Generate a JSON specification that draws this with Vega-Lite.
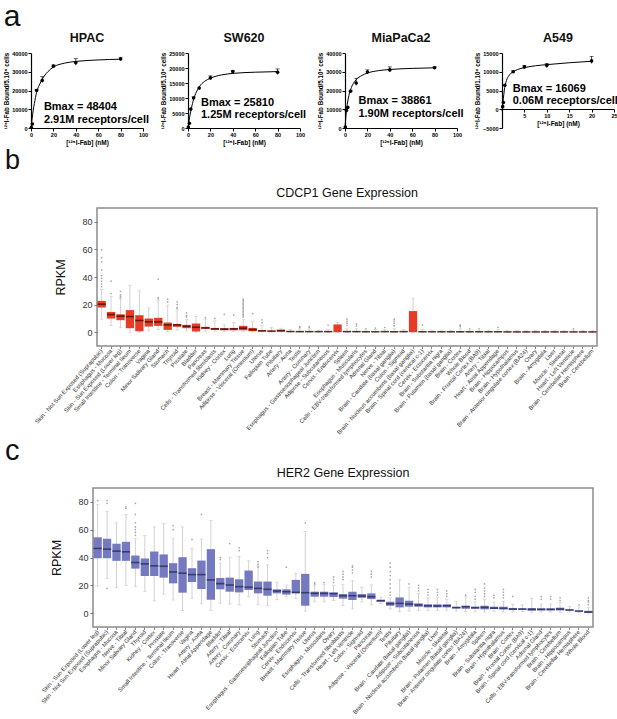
{
"$schema": "https://vega.github.io/schema/vega-lite/v6.json",
"background": "white",
"padding": {"left": 3, "top": 1, "right": 1, "bottom": 0},
"config": {"font": "Liberation Sans", "view": {"stroke": null}, "title": {"font": "Liberation Sans", "color": "#111"}, "axis": {"labelOverlap": false}},
"datasets": {
"pts": [
{"cell":"HPAC","x":0.3,"y":300},{"cell":"HPAC","x":1.25,"y":2100},{"cell":"HPAC","x":5,"y":20000,"lo":19400,"hi":20600},{"cell":"HPAC","x":10,"y":25300,"lo":24300,"hi":27400},{"cell":"HPAC","x":20,"y":33000,"lo":32400,"hi":33600},{"cell":"HPAC","x":40,"y":34800,"lo":33600,"hi":37000},{"cell":"HPAC","x":80,"y":36800,"lo":36000,"hi":37700},
{"cell":"SW620","x":0.3,"y":300},{"cell":"SW620","x":1.25,"y":1600},{"cell":"SW620","x":2.5,"y":6300},{"cell":"SW620","x":5,"y":10000,"lo":9600,"hi":10400},{"cell":"SW620","x":10,"y":13300},{"cell":"SW620","x":20,"y":16700,"lo":16100,"hi":17400},{"cell":"SW620","x":40,"y":18800,"lo":18400,"hi":19100},{"cell":"SW620","x":80,"y":18600,"lo":17800,"hi":19700},
{"cell":"MiaPaCa2","x":0.3,"y":500},{"cell":"MiaPaCa2","x":1.25,"y":9400},{"cell":"MiaPaCa2","x":2.5,"y":11000},{"cell":"MiaPaCa2","x":5,"y":19600,"lo":19000,"hi":20200},{"cell":"MiaPaCa2","x":10,"y":24000,"lo":22700,"hi":26500},{"cell":"MiaPaCa2","x":20,"y":29900,"lo":28800,"hi":31000},{"cell":"MiaPaCa2","x":40,"y":31000,"lo":30000,"hi":32600},{"cell":"MiaPaCa2","x":80,"y":32100,"lo":31600,"hi":32700},
{"cell":"A549","x":0.156,"y":700},{"cell":"A549","x":0.3125,"y":1800},{"cell":"A549","x":0.625,"y":6400},{"cell":"A549","x":2.5,"y":10000,"lo":9700,"hi":10300},{"cell":"A549","x":5,"y":11300,"lo":10900,"hi":11700},{"cell":"A549","x":10,"y":11700,"lo":11100,"hi":12200},{"cell":"A549","x":20,"y":12900,"lo":12200,"hi":14100}
],
"fit": [
{"cell":"HPAC","x":0,"y":0},{"cell":"HPAC","x":1,"y":5000},{"cell":"HPAC","x":2,"y":9500},{"cell":"HPAC","x":3,"y":13000},{"cell":"HPAC","x":5,"y":19000},{"cell":"HPAC","x":7.5,"y":23000},{"cell":"HPAC","x":10,"y":26000},{"cell":"HPAC","x":15,"y":30000},{"cell":"HPAC","x":20,"y":32500},{"cell":"HPAC","x":30,"y":34600},{"cell":"HPAC","x":40,"y":35500},{"cell":"HPAC","x":60,"y":36300},{"cell":"HPAC","x":80,"y":36700},
{"cell":"SW620","x":0,"y":0},{"cell":"SW620","x":0.5,"y":1300},{"cell":"SW620","x":1,"y":2500},{"cell":"SW620","x":2,"y":4700},{"cell":"SW620","x":3,"y":6500},{"cell":"SW620","x":5,"y":9600},{"cell":"SW620","x":7.5,"y":12000},{"cell":"SW620","x":10,"y":13700},{"cell":"SW620","x":15,"y":15600},{"cell":"SW620","x":20,"y":16600},{"cell":"SW620","x":30,"y":17700},{"cell":"SW620","x":40,"y":18200},{"cell":"SW620","x":60,"y":18600},{"cell":"SW620","x":80,"y":18800},
{"cell":"MiaPaCa2","x":0,"y":0},{"cell":"MiaPaCa2","x":0.5,"y":4000},{"cell":"MiaPaCa2","x":1,"y":7500},{"cell":"MiaPaCa2","x":2,"y":12500},{"cell":"MiaPaCa2","x":3,"y":16000},{"cell":"MiaPaCa2","x":5,"y":20500},{"cell":"MiaPaCa2","x":7.5,"y":23800},{"cell":"MiaPaCa2","x":10,"y":25800},{"cell":"MiaPaCa2","x":15,"y":28000},{"cell":"MiaPaCa2","x":20,"y":29300},{"cell":"MiaPaCa2","x":30,"y":30600},{"cell":"MiaPaCa2","x":40,"y":31200},{"cell":"MiaPaCa2","x":60,"y":31800},{"cell":"MiaPaCa2","x":80,"y":32100},
{"cell":"A549","x":0,"y":-500},{"cell":"A549","x":0.15,"y":1000},{"cell":"A549","x":0.3,"y":2800},{"cell":"A549","x":0.5,"y":4900},{"cell":"A549","x":0.75,"y":6600},{"cell":"A549","x":1,"y":7700},{"cell":"A549","x":1.5,"y":8900},{"cell":"A549","x":2,"y":9600},{"cell":"A549","x":2.5,"y":10000},{"cell":"A549","x":3.5,"y":10600},{"cell":"A549","x":5,"y":11100},{"cell":"A549","x":7.5,"y":11600},{"cell":"A549","x":10,"y":11900},{"cell":"A549","x":15,"y":12400},{"cell":"A549","x":20,"y":12800}
],
"cdcp1": [
{"t":"Skin - Not Sun Exposed (Suprapubic)","lo":9.4,"q1":17.9,"m":20.3,"q3":22.7,"hi":31,"o":[59.7,54,51,45,41,39,37,35,33]},
{"t":"Esophagus - Mucosa","lo":5,"q1":9.9,"m":12.8,"q3":14.7,"hi":26,"o":[37,28]},
{"t":"Skin - Sun Exposed (Lower leg)","lo":3.5,"q1":8.7,"m":11.6,"q3":13,"hi":24,"o":[29.5,27,26,25]},
{"t":"Small Intestine - Terminal Ileum","lo":0,"q1":2.9,"m":11.3,"q3":16,"hi":34,"o":[]},
{"t":"Colon - Transverse","lo":0,"q1":0.7,"m":8.5,"q3":12.3,"hi":30,"o":[]},
{"t":"Vagina","lo":1,"q1":4.1,"m":7.5,"q3":9.9,"hi":17.6,"o":[]},
{"t":"Minor Salivary Gland","lo":2,"q1":4.6,"m":7.5,"q3":10.4,"hi":22.7,"o":[38.5,25,24]},
{"t":"Stomach","lo":0.5,"q1":1.7,"m":5.3,"q3":7,"hi":19.6,"o":[24,22]},
{"t":"Thyroid","lo":1.5,"q1":3.9,"m":5.3,"q3":6,"hi":15.5,"o":[22,20,18,17]},
{"t":"Prostate","lo":1,"q1":2.9,"m":4.3,"q3":5.3,"hi":9.4,"o":[14,12,11]},
{"t":"Bladder","lo":0,"q1":0.5,"m":3.6,"q3":6.3,"hi":11.4,"o":[]},
{"t":"Pancreas","lo":0.8,"q1":2.4,"m":3.1,"q3":3.9,"hi":9.4,"o":[10.5]},
{"t":"Cells - Transformed fibroblasts","lo":0.8,"q1":1.7,"m":2.4,"q3":3.1,"hi":8.2,"o":[10]},
{"t":"Kidney - Cortex","lo":0.5,"q1":1.4,"m":2.2,"q3":2.9,"hi":5.3,"o":[13]},
{"t":"Lung","lo":0.5,"q1":1.4,"m":2.4,"q3":3.1,"hi":7,"o":[12.5]},
{"t":"Breast - Mammary Tissue","lo":0.3,"q1":1.4,"m":2.9,"q3":4.6,"hi":9.4,"o":[24,23,22,21,20,19,18,17,16,15,14,13,12,11]},
{"t":"Adipose - Visceral (Omentum)","lo":0.2,"q1":0.7,"m":1.9,"q3":3.1,"hi":8,"o":[13.5]},
{"t":"Uterus","lo":0.2,"q1":0.5,"m":1,"q3":1.4,"hi":4.6,"o":[9,7]},
{"t":"Fallopian Tube","lo":0.2,"q1":0.5,"m":0.7,"q3":1.2,"hi":3.4,"o":[]},
{"t":"Pituitary","lo":0.2,"q1":0.5,"m":1,"q3":1.9,"hi":2.9,"o":[]},
{"t":"Artery - Aorta","lo":0,"q1":0.3,"m":0.5,"q3":0.8,"hi":2,"o":[]},
{"t":"Testis","lo":0,"q1":0.2,"m":0.4,"q3":0.7,"hi":2.5,"o":[4,3.5]},
{"t":"Artery - Coronary","lo":0,"q1":0.2,"m":0.4,"q3":0.7,"hi":2.5,"o":[4,3.5]},
{"t":"Esophagus - Gastroesophageal Junction","lo":0,"q1":0.2,"m":0.4,"q3":0.6,"hi":1.5,"o":[]},
{"t":"Adipose - Subcutaneous","lo":0,"q1":0.2,"m":0.4,"q3":0.7,"hi":2,"o":[5]},
{"t":"Cervix - Endocervix","lo":0,"q1":0,"m":null,"q3":5.6,"hi":7,"o":[]},
{"t":"Spleen","lo":0,"q1":0.2,"m":0.4,"q3":0.8,"hi":2.5,"o":[9.4,8,6.5,5]},
{"t":"Esophagus - Muscularis","lo":0,"q1":0.2,"m":0.4,"q3":0.7,"hi":2.5,"o":[6,4.5]},
{"t":"Cells - EBV-transformed lymphocytes","lo":0,"q1":0.2,"m":0.3,"q3":0.6,"hi":1.5,"o":[2.5]},
{"t":"Adrenal Gland","lo":0,"q1":0.2,"m":0.3,"q3":0.6,"hi":2,"o":[3]},
{"t":"Nerve - Tibial","lo":0,"q1":0.2,"m":0.4,"q3":0.7,"hi":2,"o":[3.4]},
{"t":"Brain - Caudate (basal ganglia)","lo":0,"q1":0.1,"m":0.3,"q3":0.6,"hi":2.5,"o":[9.4,8,6.5,5,4.5]},
{"t":"Colon - Sigmoid","lo":0,"q1":0.2,"m":0.4,"q3":0.7,"hi":1.8,"o":[]},
{"t":"Brain - Nucleus accumbens (basal ganglia)","lo":0,"q1":0,"m":null,"q3":15.3,"hi":24.6,"o":[]},
{"t":"Brain - Spinal cord (cervical c-1)","lo":0,"q1":0.2,"m":0.3,"q3":0.6,"hi":2,"o":[5.3]},
{"t":"Cervix - Ectocervix","lo":0,"q1":0.2,"m":0.3,"q3":0.5,"hi":1.5,"o":[]},
{"t":"Brain - Substantia nigra","lo":0,"q1":0.1,"m":0.3,"q3":0.5,"hi":1.5,"o":[]},
{"t":"Brain - Putamen (basal ganglia)","lo":0,"q1":0.1,"m":0.3,"q3":0.5,"hi":1.5,"o":[]},
{"t":"Brain - Cortex","lo":0,"q1":0.1,"m":0.3,"q3":0.6,"hi":2.5,"o":[5.3,4.5,4]},
{"t":"Whole Blood","lo":0,"q1":0.1,"m":0.3,"q3":0.5,"hi":1.5,"o":[2.5]},
{"t":"Brain - Frontal Cortex (BA9)","lo":0,"q1":0.1,"m":0.3,"q3":0.5,"hi":1.5,"o":[2.5]},
{"t":"Artery - Tibial","lo":0,"q1":0.1,"m":0.3,"q3":0.5,"hi":1.5,"o":[]},
{"t":"Heart - Atrial Appendage","lo":0,"q1":0.1,"m":0.3,"q3":0.6,"hi":2,"o":[3.4]},
{"t":"Brain - Hippocampus","lo":0,"q1":0.1,"m":0.2,"q3":0.4,"hi":1.2,"o":[]},
{"t":"Brain - Hypothalamus","lo":0,"q1":0.1,"m":0.2,"q3":0.4,"hi":1.2,"o":[]},
{"t":"Brain - Anterior cingulate cortex (BA24)","lo":0,"q1":0.1,"m":0.2,"q3":0.4,"hi":1.2,"o":[]},
{"t":"Ovary","lo":0,"q1":0.1,"m":0.2,"q3":0.4,"hi":1.2,"o":[]},
{"t":"Brain - Amygdala","lo":0,"q1":0.1,"m":0.2,"q3":0.4,"hi":1.2,"o":[]},
{"t":"Liver","lo":0,"q1":0.1,"m":0.2,"q3":0.4,"hi":1.2,"o":[]},
{"t":"Muscle - Skeletal","lo":0,"q1":0.1,"m":0.2,"q3":0.4,"hi":1.2,"o":[]},
{"t":"Heart - Left Ventricle","lo":0,"q1":0.1,"m":0.2,"q3":0.4,"hi":1.5,"o":[2.5]},
{"t":"Brain - Cerebellar Hemisphere","lo":0,"q1":0.1,"m":0.2,"q3":0.4,"hi":1.2,"o":[]},
{"t":"Brain - Cerebellum","lo":0,"q1":0.1,"m":0.2,"q3":0.4,"hi":1.2,"o":[]}
],
"her2": [
{"t":"Skin - Sun Exposed (Lower leg)","lo":19.5,"q1":39.5,"m":46.5,"q3":54.5,"hi":78,"o":[81]},
{"t":"Skin - Not Sun Exposed (Suprapubic)","lo":25,"q1":39.5,"m":46,"q3":53.5,"hi":73,"o":[81,79,17.8]},
{"t":"Esophagus - Mucosa","lo":18.3,"q1":37.6,"m":44.6,"q3":49.9,"hi":65,"o":[]},
{"t":"Nerve - Tibial","lo":19.8,"q1":37.6,"m":44.1,"q3":51.3,"hi":71,"o":[76.5,75.5]},
{"t":"Minor Salivary Gland","lo":19,"q1":32,"m":36.4,"q3":41.4,"hi":53.5,"o":[79,71,65,62,60,58,56]},
{"t":"Thyroid","lo":15.4,"q1":26.7,"m":35.4,"q3":39.3,"hi":55.7,"o":[]},
{"t":"Kidney - Cortex","lo":8.7,"q1":26.7,"m":34,"q3":44.3,"hi":62,"o":[]},
{"t":"Prostate","lo":13.7,"q1":25.5,"m":33.7,"q3":42.2,"hi":64.3,"o":[]},
{"t":"Small Intestine - Terminal Ileum","lo":9.4,"q1":21.4,"m":29.6,"q3":35.9,"hi":53.5,"o":[63,60]},
{"t":"Colon - Transverse","lo":1.9,"q1":14.7,"m":28.7,"q3":40.2,"hi":62,"o":[]},
{"t":"Vagina","lo":10.6,"q1":22.4,"m":27.7,"q3":32.3,"hi":46.7,"o":[53]},
{"t":"Artery - Aorta","lo":6.7,"q1":17.3,"m":27.7,"q3":37.8,"hi":53.3,"o":[71]},
{"t":"Heart - Atrial Appendage","lo":2,"q1":9.6,"m":23.9,"q3":46,"hi":66.5,"o":[]},
{"t":"Bladder","lo":7.2,"q1":17.1,"m":21.2,"q3":25.3,"hi":36,"o":[40,38.5]},
{"t":"Artery - Tibial","lo":6.5,"q1":15.4,"m":20.2,"q3":25.5,"hi":40.2,"o":[50]},
{"t":"Artery - Coronary","lo":5.8,"q1":14.9,"m":19,"q3":24.3,"hi":40.7,"o":[47,45]},
{"t":"Cervix - Ectocervix","lo":11.8,"q1":16.6,"m":18.6,"q3":30.6,"hi":37.6,"o":[]},
{"t":"Lung","lo":6.3,"q1":14.2,"m":17.8,"q3":22.7,"hi":34,"o":[37,35,33]},
{"t":"Stomach","lo":5.3,"q1":12.5,"m":17.1,"q3":22.7,"hi":34.7,"o":[45,43,40]},
{"t":"Esophagus - Gastroesophageal Junction","lo":9.6,"q1":14.2,"m":15.9,"q3":17.1,"hi":22.2,"o":[]},
{"t":"Fallopian Tube","lo":11.6,"q1":13.3,"m":15.4,"q3":17.1,"hi":20.2,"o":[33]},
{"t":"Cervix - Endocervix","lo":10.6,"q1":14.2,"m":14.9,"q3":23.9,"hi":28.7,"o":[]},
{"t":"Breast - Mammary Tissue","lo":1.4,"q1":5.3,"m":14.7,"q3":28.2,"hi":58.8,"o":[65]},
{"t":"Uterus","lo":8.2,"q1":11.8,"m":14.2,"q3":15.4,"hi":20,"o":[22,21]},
{"t":"Esophagus - Muscularis","lo":8,"q1":11.8,"m":14.2,"q3":15.4,"hi":20.5,"o":[22]},
{"t":"Ovary","lo":9,"q1":11.6,"m":14,"q3":14.9,"hi":20,"o":[26,24,22]},
{"t":"Cells - Transformed fibroblasts","lo":5.5,"q1":10.4,"m":12.5,"q3":13.7,"hi":20.5,"o":[30,28,26,24]},
{"t":"Heart - Left Ventricle","lo":2.9,"q1":9.4,"m":12.5,"q3":15.4,"hi":23.4,"o":[34,33,31,29]},
{"t":"Colon - Sigmoid","lo":8,"q1":11,"m":12.3,"q3":13.7,"hi":18.6,"o":[]},
{"t":"Pancreas","lo":6,"q1":10.1,"m":11.8,"q3":14.2,"hi":20.2,"o":[30,28,26]},
{"t":"Adipose - Visceral (Omentum)","lo":7,"q1":8.2,"m":8.9,"q3":9.6,"hi":11.5,"o":[]},
{"t":"Testis","lo":3,"q1":5.3,"m":6.7,"q3":8.2,"hi":11,"o":[36,33,30,27,24,21,18,15,13]},
{"t":"Pituitary","lo":1,"q1":4.1,"m":7,"q3":11.3,"hi":24,"o":[]},
{"t":"Brain - Caudate (basal ganglia)","lo":1.5,"q1":4.6,"m":6.5,"q3":8.9,"hi":18.6,"o":[21]},
{"t":"Adipose - Subcutaneous","lo":2,"q1":4.6,"m":5.8,"q3":7,"hi":14,"o":[20,18,16]},
{"t":"Brain - Nucleus accumbens (basal ganglia)","lo":2,"q1":4.1,"m":5.3,"q3":6.3,"hi":11,"o":[17,15,13]},
{"t":"Liver","lo":2,"q1":4.1,"m":5.1,"q3":6.3,"hi":11,"o":[17,15,13]},
{"t":"Muscle - Skeletal","lo":2,"q1":4.1,"m":5.3,"q3":6.3,"hi":10,"o":[16,14,12]},
{"t":"Brain - Putamen (basal ganglia)","lo":1.5,"q1":3.4,"m":3.9,"q3":4.6,"hi":8.2,"o":[]},
{"t":"Brain - Anterior cingulate cortex (BA24)","lo":1.2,"q1":3.1,"m":4.6,"q3":5.3,"hi":11.8,"o":[13]},
{"t":"Brain - Amygdala","lo":1.2,"q1":3.1,"m":3.9,"q3":4.6,"hi":8,"o":[17,15,12,10]},
{"t":"Spleen","lo":0.8,"q1":2.7,"m":4.1,"q3":5.3,"hi":10,"o":[21,18,16,14,12]},
{"t":"Brain - Substantia nigra","lo":1,"q1":2.9,"m":3.6,"q3":4.6,"hi":8,"o":[13,11]},
{"t":"Brain - Hypothalamus","lo":0.8,"q1":2.7,"m":3.4,"q3":4.6,"hi":8.5,"o":[17,15,13,11]},
{"t":"Brain - Cortex","lo":0.8,"q1":2.2,"m":2.9,"q3":3.6,"hi":6.5,"o":[12]},
{"t":"Brain - Frontal Cortex (BA9)","lo":1,"q1":2.4,"m":2.9,"q3":3.4,"hi":5.8,"o":[]},
{"t":"Brain - Spinal cord (cervical c-1)","lo":0.5,"q1":1.7,"m":2.7,"q3":3.6,"hi":10.6,"o":[]},
{"t":"Adrenal Gland","lo":0.8,"q1":1.9,"m":2.7,"q3":3.4,"hi":6.5,"o":[12,10]},
{"t":"Cells - EBV-transformed lymphocytes","lo":0.8,"q1":1.9,"m":2.7,"q3":3.4,"hi":6.5,"o":[12,10]},
{"t":"Brain - Cerebellum","lo":0.5,"q1":1.9,"m":2.9,"q3":3.9,"hi":7.5,"o":[11,9]},
{"t":"Brain - Hippocampus","lo":0.8,"q1":1.9,"m":2.2,"q3":2.7,"hi":4.6,"o":[]},
{"t":"Brain - Cerebellar Hemisphere","lo":0.3,"q1":1.2,"m":1.4,"q3":1.9,"hi":4.6,"o":[6]},
{"t":"Whole Blood","lo":0,"q1":0.2,"m":0.7,"q3":1.7,"hi":4,"o":[11,9,8,6]}
]
},
"vconcat": [
{
"title": {"text": "a", "anchor": "start", "fontSize": 30, "fontWeight": "normal", "offset": 0, "frame": "bounds"},
"spacing": 10,
"hconcat": [
{
"width": 112, "height": 75,
"title": {"text": "HPAC", "fontSize": 12.5, "fontWeight": "bold", "offset": 7},
"layer": [
{"encoding": {"x": {"field": "x", "type": "quantitative", "scale": {"domain": [0, 100], "nice": false}, "axis": {"values": [0,20,40,60,80,100], "labelOverlap": false, "title": "[¹²⁵I-Fab] (nM)", "titleFontSize": 6.5, "titleFontWeight": "bold", "titleColor": "black", "titlePadding": 2, "labelFontSize": 5.5, "labelFontWeight": "bold", "labelColor": "black", "labelFlush": false, "labelPadding": 1, "domainColor": "black", "domainWidth": 1.2, "tickColor": "black", "tickSize": 3, "grid": false}},
  "y": {"field": "v", "type": "quantitative", "scale": {"domain": [0, 40000], "nice": false}, "axis": {"values": [0,10000,20000,30000,40000], "labelOverlap": false, "format": "d", "title": "¹²⁵I-Fab Bound/5.10⁵ cells", "titleFontSize": 6.3, "titleFontWeight": "bold", "titleColor": "black", "titlePadding": 2, "labelFontSize": 5.5, "labelFontWeight": "bold", "labelColor": "black", "labelPadding": 1, "domainColor": "black", "domainWidth": 1.2, "tickColor": "black", "tickSize": 3, "grid": false}}},
 "layer": [
{"data": {"name": "fit"}, "transform": [{"filter": "datum.cell === 'HPAC'"}, {"fold": ["y"], "as": ["k", "v"]}], "mark": {"type": "line", "color": "black", "strokeWidth": 1, "interpolate": "monotone"}},
{"data": {"name": "pts"}, "transform": [{"filter": "datum.cell === 'HPAC'"}, {"fold": ["lo"], "as": ["k", "v"]}], "mark": {"type": "rule", "color": "black", "strokeWidth": 0.8}, "encoding": {"y2": {"field": "hi"}}},
{"data": {"name": "pts"}, "transform": [{"filter": "datum.cell === 'HPAC'"}, {"fold": ["hi"], "as": ["k", "v"]}], "mark": {"type": "tick", "orient": "horizontal", "color": "black", "size": 4, "thickness": 0.8}},
{"data": {"name": "pts"}, "transform": [{"filter": "datum.cell === 'HPAC'"}, {"fold": ["y"], "as": ["k", "v"]}], "mark": {"type": "point", "filled": true, "color": "black", "size": 13, "opacity": 1}}
 ]},
{"data": {"values": [{}]}, "mark": {"type": "text", "align": "left", "baseline": "top", "fontSize": 11, "fontWeight": "bold", "color": "black", "lineHeight": 12.5}, "encoding": {"x": {"datum": 11.5, "type": "quantitative", "axis": {"values": [0,20,40,60,80,100], "labelOverlap": false, "title": "[¹²⁵I-Fab] (nM)", "titleFontSize": 6.5, "titleFontWeight": "bold", "titleColor": "black", "titlePadding": 2, "labelFontSize": 5.5, "labelFontWeight": "bold", "labelColor": "black", "labelFlush": false, "labelPadding": 1, "domainColor": "black", "domainWidth": 1.2, "tickColor": "black", "tickSize": 3, "grid": false}}, "y": {"datum": 14300, "type": "quantitative", "axis": {"values": [0,10000,20000,30000,40000], "labelOverlap": false, "format": "d", "title": "¹²⁵I-Fab Bound/5.10⁵ cells", "titleFontSize": 6.3, "titleFontWeight": "bold", "titleColor": "black", "titlePadding": 2, "labelFontSize": 5.5, "labelFontWeight": "bold", "labelColor": "black", "labelPadding": 1, "domainColor": "black", "domainWidth": 1.2, "tickColor": "black", "tickSize": 3, "grid": false}}, "text": {"value": ["Bmax = 48404", "2.91M receptors/cell"]}}}
]
},
{
"width": 112, "height": 75,
"title": {"text": "SW620", "fontSize": 12.5, "fontWeight": "bold", "offset": 7},
"layer": [
{"encoding": {"x": {"field": "x", "type": "quantitative", "scale": {"domain": [0, 100], "nice": false}, "axis": {"values": [0,20,40,60,80,100], "labelOverlap": false, "title": "[¹²⁵I-Fab] (nM)", "titleFontSize": 6.5, "titleFontWeight": "bold", "titleColor": "black", "titlePadding": 2, "labelFontSize": 5.5, "labelFontWeight": "bold", "labelColor": "black", "labelFlush": false, "labelPadding": 1, "domainColor": "black", "domainWidth": 1.2, "tickColor": "black", "tickSize": 3, "grid": false}},
  "y": {"field": "v", "type": "quantitative", "scale": {"domain": [0, 25000], "nice": false}, "axis": {"values": [0,5000,10000,15000,20000,25000], "labelOverlap": false, "format": "d", "title": "¹²⁵I-Fab Bound/5.10⁵ cells", "titleFontSize": 6.3, "titleFontWeight": "bold", "titleColor": "black", "titlePadding": 2, "labelFontSize": 5.5, "labelFontWeight": "bold", "labelColor": "black", "labelPadding": 1, "domainColor": "black", "domainWidth": 1.2, "tickColor": "black", "tickSize": 3, "grid": false}}},
 "layer": [
{"data": {"name": "fit"}, "transform": [{"filter": "datum.cell === 'SW620'"}, {"fold": ["y"], "as": ["k", "v"]}], "mark": {"type": "line", "color": "black", "strokeWidth": 1, "interpolate": "monotone"}},
{"data": {"name": "pts"}, "transform": [{"filter": "datum.cell === 'SW620'"}, {"fold": ["lo"], "as": ["k", "v"]}], "mark": {"type": "rule", "color": "black", "strokeWidth": 0.8}, "encoding": {"y2": {"field": "hi"}}},
{"data": {"name": "pts"}, "transform": [{"filter": "datum.cell === 'SW620'"}, {"fold": ["hi"], "as": ["k", "v"]}], "mark": {"type": "tick", "orient": "horizontal", "color": "black", "size": 4, "thickness": 0.8}},
{"data": {"name": "pts"}, "transform": [{"filter": "datum.cell === 'SW620'"}, {"fold": ["y"], "as": ["k", "v"]}], "mark": {"type": "point", "filled": true, "color": "black", "size": 13, "opacity": 1}}
 ]},
{"data": {"values": [{}]}, "mark": {"type": "text", "align": "left", "baseline": "top", "fontSize": 11, "fontWeight": "bold", "color": "black", "lineHeight": 12.5}, "encoding": {"x": {"datum": 11.6, "type": "quantitative", "axis": {"values": [0,20,40,60,80,100], "labelOverlap": false, "title": "[¹²⁵I-Fab] (nM)", "titleFontSize": 6.5, "titleFontWeight": "bold", "titleColor": "black", "titlePadding": 2, "labelFontSize": 5.5, "labelFontWeight": "bold", "labelColor": "black", "labelFlush": false, "labelPadding": 1, "domainColor": "black", "domainWidth": 1.2, "tickColor": "black", "tickSize": 3, "grid": false}}, "y": {"datum": 10500, "type": "quantitative", "axis": {"values": [0,5000,10000,15000,20000,25000], "labelOverlap": false, "format": "d", "title": "¹²⁵I-Fab Bound/5.10⁵ cells", "titleFontSize": 6.3, "titleFontWeight": "bold", "titleColor": "black", "titlePadding": 2, "labelFontSize": 5.5, "labelFontWeight": "bold", "labelColor": "black", "labelPadding": 1, "domainColor": "black", "domainWidth": 1.2, "tickColor": "black", "tickSize": 3, "grid": false}}, "text": {"value": ["Bmax = 25810", "1.25M receptors/cell"]}}}
]
},
{
"width": 112, "height": 75,
"title": {"text": "MiaPaCa2", "fontSize": 12.5, "fontWeight": "bold", "offset": 7},
"layer": [
{"encoding": {"x": {"field": "x", "type": "quantitative", "scale": {"domain": [0, 100], "nice": false}, "axis": {"values": [0,20,40,60,80,100], "labelOverlap": false, "title": "[¹²⁵I-Fab] (nM)", "titleFontSize": 6.5, "titleFontWeight": "bold", "titleColor": "black", "titlePadding": 2, "labelFontSize": 5.5, "labelFontWeight": "bold", "labelColor": "black", "labelFlush": false, "labelPadding": 1, "domainColor": "black", "domainWidth": 1.2, "tickColor": "black", "tickSize": 3, "grid": false}},
  "y": {"field": "v", "type": "quantitative", "scale": {"domain": [0, 40000], "nice": false}, "axis": {"values": [0,10000,20000,30000,40000], "labelOverlap": false, "format": "d", "title": "¹²⁵I-Fab Bound/5.10⁵ cells", "titleFontSize": 6.3, "titleFontWeight": "bold", "titleColor": "black", "titlePadding": 2, "labelFontSize": 5.5, "labelFontWeight": "bold", "labelColor": "black", "labelPadding": 1, "domainColor": "black", "domainWidth": 1.2, "tickColor": "black", "tickSize": 3, "grid": false}}},
 "layer": [
{"data": {"name": "fit"}, "transform": [{"filter": "datum.cell === 'MiaPaCa2'"}, {"fold": ["y"], "as": ["k", "v"]}], "mark": {"type": "line", "color": "black", "strokeWidth": 1, "interpolate": "monotone"}},
{"data": {"name": "pts"}, "transform": [{"filter": "datum.cell === 'MiaPaCa2'"}, {"fold": ["lo"], "as": ["k", "v"]}], "mark": {"type": "rule", "color": "black", "strokeWidth": 0.8}, "encoding": {"y2": {"field": "hi"}}},
{"data": {"name": "pts"}, "transform": [{"filter": "datum.cell === 'MiaPaCa2'"}, {"fold": ["hi"], "as": ["k", "v"]}], "mark": {"type": "tick", "orient": "horizontal", "color": "black", "size": 4, "thickness": 0.8}},
{"data": {"name": "pts"}, "transform": [{"filter": "datum.cell === 'MiaPaCa2'"}, {"fold": ["y"], "as": ["k", "v"]}], "mark": {"type": "point", "filled": true, "color": "black", "size": 13, "opacity": 1}}
 ]},
{"data": {"values": [{}]}, "mark": {"type": "text", "align": "left", "baseline": "top", "fontSize": 11, "fontWeight": "bold", "color": "black", "lineHeight": 12.5}, "encoding": {"x": {"datum": 12, "type": "quantitative", "axis": {"values": [0,20,40,60,80,100], "labelOverlap": false, "title": "[¹²⁵I-Fab] (nM)", "titleFontSize": 6.5, "titleFontWeight": "bold", "titleColor": "black", "titlePadding": 2, "labelFontSize": 5.5, "labelFontWeight": "bold", "labelColor": "black", "labelFlush": false, "labelPadding": 1, "domainColor": "black", "domainWidth": 1.2, "tickColor": "black", "tickSize": 3, "grid": false}}, "y": {"datum": 17600, "type": "quantitative", "axis": {"values": [0,10000,20000,30000,40000], "labelOverlap": false, "format": "d", "title": "¹²⁵I-Fab Bound/5.10⁵ cells", "titleFontSize": 6.3, "titleFontWeight": "bold", "titleColor": "black", "titlePadding": 2, "labelFontSize": 5.5, "labelFontWeight": "bold", "labelColor": "black", "labelPadding": 1, "domainColor": "black", "domainWidth": 1.2, "tickColor": "black", "tickSize": 3, "grid": false}}, "text": {"value": ["Bmax = 38861", "1.90M receptors/cell"]}}}
]
},
{
"width": 112, "height": 75,
"title": {"text": "A549", "fontSize": 12.5, "fontWeight": "bold", "offset": 7},
"layer": [
{"encoding": {"x": {"field": "x", "type": "quantitative", "scale": {"domain": [0, 25], "nice": false}, "axis": {"values": [5,10,15,20,25], "labelOverlap": false, "offset": -19, "title": "[¹²⁵I-Fab] (nM)", "titleFontSize": 6.5, "titleFontWeight": "bold", "titleColor": "black", "titlePadding": 2, "labelFontSize": 5.5, "labelFontWeight": "bold", "labelColor": "black", "labelFlush": false, "labelPadding": 1, "domainColor": "black", "domainWidth": 1.2, "tickColor": "black", "tickSize": 3, "grid": false}},
  "y": {"field": "v", "type": "quantitative", "scale": {"domain": [-5000, 15000], "nice": false, "zero": false}, "axis": {"values": [-5000,0,5000,10000,15000], "labelOverlap": false, "format": "d", "title": "¹²⁵I-Fab Bound/1.10⁶ cells", "titleFontSize": 6.3, "titleFontWeight": "bold", "titleColor": "black", "titlePadding": 2, "labelFontSize": 5.5, "labelFontWeight": "bold", "labelColor": "black", "labelPadding": 1, "domainColor": "black", "domainWidth": 1.2, "tickColor": "black", "tickSize": 3, "grid": false}}},
 "layer": [
{"data": {"name": "fit"}, "transform": [{"filter": "datum.cell === 'A549'"}, {"fold": ["y"], "as": ["k", "v"]}], "mark": {"type": "line", "color": "black", "strokeWidth": 1, "interpolate": "monotone"}},
{"data": {"name": "pts"}, "transform": [{"filter": "datum.cell === 'A549'"}, {"fold": ["lo"], "as": ["k", "v"]}], "mark": {"type": "rule", "color": "black", "strokeWidth": 0.8}, "encoding": {"y2": {"field": "hi"}}},
{"data": {"name": "pts"}, "transform": [{"filter": "datum.cell === 'A549'"}, {"fold": ["hi"], "as": ["k", "v"]}], "mark": {"type": "tick", "orient": "horizontal", "color": "black", "size": 4, "thickness": 0.8}},
{"data": {"name": "pts"}, "transform": [{"filter": "datum.cell === 'A549'"}, {"fold": ["y"], "as": ["k", "v"]}], "mark": {"type": "point", "filled": true, "color": "black", "size": 13, "opacity": 1}}
 ]},
{"data": {"values": [{}]}, "mark": {"type": "text", "align": "left", "baseline": "top", "fontSize": 11, "fontWeight": "bold", "color": "black", "lineHeight": 12.5}, "encoding": {"x": {"datum": 2.4, "type": "quantitative", "axis": {"values": [5,10,15,20,25], "labelOverlap": false, "offset": -19, "title": "[¹²⁵I-Fab] (nM)", "titleFontSize": 6.5, "titleFontWeight": "bold", "titleColor": "black", "titlePadding": 2, "labelFontSize": 5.5, "labelFontWeight": "bold", "labelColor": "black", "labelFlush": false, "labelPadding": 1, "domainColor": "black", "domainWidth": 1.2, "tickColor": "black", "tickSize": 3, "grid": false}}, "y": {"datum": 7100, "type": "quantitative", "axis": {"values": [-5000,0,5000,10000,15000], "labelOverlap": false, "format": "d", "title": "¹²⁵I-Fab Bound/1.10⁶ cells", "titleFontSize": 6.3, "titleFontWeight": "bold", "titleColor": "black", "titlePadding": 2, "labelFontSize": 5.5, "labelFontWeight": "bold", "labelColor": "black", "labelPadding": 1, "domainColor": "black", "domainWidth": 1.2, "tickColor": "black", "tickSize": 3, "grid": false}}, "text": {"value": ["Bmax = 16069", "0.06M receptors/cell"]}}}
]
}
]
},
{
"title": {"text": "b", "anchor": "start", "frame": "bounds", "fontSize": 27, "fontWeight": "normal", "offset": 11, "dx": -26},
"spacing": 0,
"hconcat": [
{"width": 1, "height": 20, "data": {"values": [{}]}, "mark": {"type": "text"}, "encoding": {"text": {"value": ""}}},
{
"width": 500, "height": 138,
"title": {"text": "CDCP1 Gene Expression", "fontSize": 12.5, "fontWeight": "normal", "offset": 9},
"view": {"stroke": "#8c8c8c", "strokeWidth": 1.5},
"data": {"name": "cdcp1"},
"encoding": {"x": {"field": "t", "type": "nominal", "sort": null, "scale": {"paddingInner": 0.12, "paddingOuter": 0.05, "domain": ["Skin - Not Sun Exposed (Suprapubic)","Esophagus - Mucosa","Skin - Sun Exposed (Lower leg)","Small Intestine - Terminal Ileum","Colon - Transverse","Vagina","Minor Salivary Gland","Stomach","Thyroid","Prostate","Bladder","Pancreas","Cells - Transformed fibroblasts","Kidney - Cortex","Lung","Breast - Mammary Tissue","Adipose - Visceral (Omentum)","Uterus","Fallopian Tube","Pituitary","Artery - Aorta","Testis","Artery - Coronary","Esophagus - Gastroesophageal Junction","Adipose - Subcutaneous","Cervix - Endocervix","Spleen","Esophagus - Muscularis","Cells - EBV-transformed lymphocytes","Adrenal Gland","Nerve - Tibial","Brain - Caudate (basal ganglia)","Colon - Sigmoid","Brain - Nucleus accumbens (basal ganglia)","Brain - Spinal cord (cervical c-1)","Cervix - Ectocervix","Brain - Substantia nigra","Brain - Putamen (basal ganglia)","Brain - Cortex","Whole Blood","Brain - Frontal Cortex (BA9)","Artery - Tibial","Heart - Atrial Appendage","Brain - Hippocampus","Brain - Hypothalamus","Brain - Anterior cingulate cortex (BA24)","Ovary","Brain - Amygdala","Liver","Muscle - Skeletal","Heart - Left Ventricle","Brain - Cerebellar Hemisphere","Brain - Cerebellum"]},
 "axis": {"title": null, "labelAngle": -48, "labelFontSize": 5.9, "labelColor": "#333", "labelLimit": 0, "labelOverlap": false, "tickColor": "#888", "tickSize": 2.5, "domain": false, "labelPadding": 1}},
 "y": {"field": "v", "type": "quantitative", "scale": {"domain": [-10, 90], "nice": false, "zero": false}, "axis": {"title": "RPKM", "values": [0,20,40,60,80], "labelOverlap": false, "labelFontSize": 9, "labelColor": "#333", "titleFontSize": 12.5, "titleFontWeight": "normal", "titleColor": "#111", "titlePadding": 14, "tickColor": "#777", "tickSize": 3, "domain": false, "grid": false, "labelPadding": 2}}},
"layer": [
{"transform": [{"fold": ["lo"], "as": ["k", "v"]}], "mark": {"type": "rule", "color": "#c6c6c6", "strokeWidth": 0.8}, "encoding": {"y2": {"field": "hi"}}},
{"transform": [{"fold": ["lo", "hi"], "as": ["k", "v"]}], "mark": {"type": "tick", "orient": "horizontal", "color": "#c6c6c6", "size": 3.5, "thickness": 0.8}},
{"transform": [{"flatten": ["o"]}, {"fold": ["o"], "as": ["k", "v"]}], "mark": {"type": "point", "filled": true, "size": 3, "color": "#a9a9a9", "opacity": 1}},
{"transform": [{"fold": ["q1"], "as": ["k", "v"]}], "mark": {"type": "bar", "color": "#e63b25"}, "encoding": {"y2": {"field": "q3"}}},
{"transform": [{"fold": ["m"], "as": ["k", "v"]}], "mark": {"type": "tick", "orient": "horizontal", "color": "#2a0806", "size": 8.3, "thickness": 1.6}}
]
}
]
},
{
"title": {"text": "c", "anchor": "start", "frame": "bounds", "fontSize": 29, "fontWeight": "normal", "offset": 0, "dx": -26},
"spacing": 0,
"hconcat": [
{"width": 8, "height": 20, "data": {"values": [{}]}, "mark": {"type": "text"}, "encoding": {"text": {"value": ""}}},
{
"width": 500, "height": 139,
"title": {"text": "HER2 Gene Expression", "fontSize": 12.5, "fontWeight": "normal", "offset": 9},
"view": {"stroke": "#8c8c8c", "strokeWidth": 1.5},
"data": {"name": "her2"},
"encoding": {"x": {"field": "t", "type": "nominal", "sort": null, "scale": {"paddingInner": 0.12, "paddingOuter": 0.05, "domain": ["Skin - Sun Exposed (Lower leg)","Skin - Not Sun Exposed (Suprapubic)","Esophagus - Mucosa","Nerve - Tibial","Minor Salivary Gland","Thyroid","Kidney - Cortex","Prostate","Small Intestine - Terminal Ileum","Colon - Transverse","Vagina","Artery - Aorta","Heart - Atrial Appendage","Bladder","Artery - Tibial","Artery - Coronary","Cervix - Ectocervix","Lung","Stomach","Esophagus - Gastroesophageal Junction","Fallopian Tube","Cervix - Endocervix","Breast - Mammary Tissue","Uterus","Esophagus - Muscularis","Ovary","Cells - Transformed fibroblasts","Heart - Left Ventricle","Colon - Sigmoid","Pancreas","Adipose - Visceral (Omentum)","Testis","Pituitary","Brain - Caudate (basal ganglia)","Adipose - Subcutaneous","Brain - Nucleus accumbens (basal ganglia)","Liver","Muscle - Skeletal","Brain - Putamen (basal ganglia)","Brain - Anterior cingulate cortex (BA24)","Brain - Amygdala","Spleen","Brain - Substantia nigra","Brain - Hypothalamus","Brain - Cortex","Brain - Frontal Cortex (BA9)","Brain - Spinal cord (cervical c-1)","Adrenal Gland","Cells - EBV-transformed lymphocytes","Brain - Cerebellum","Brain - Hippocampus","Brain - Cerebellar Hemisphere","Whole Blood"]},
 "axis": {"title": null, "labelAngle": -48, "labelFontSize": 5.8, "labelColor": "#333", "labelLimit": 0, "labelOverlap": false, "tickColor": "#888", "tickSize": 2.5, "domain": false, "labelPadding": 1}},
 "y": {"field": "v", "type": "quantitative", "scale": {"domain": [-10, 90], "nice": false, "zero": false}, "axis": {"title": "RPKM", "values": [0,20,40,60,80], "labelOverlap": false, "labelFontSize": 9, "labelColor": "#333", "titleFontSize": 12.5, "titleFontWeight": "normal", "titleColor": "#111", "titlePadding": 14, "tickColor": "#777", "tickSize": 3, "domain": false, "grid": false, "labelPadding": 2}}},
"layer": [
{"transform": [{"fold": ["lo"], "as": ["k", "v"]}], "mark": {"type": "rule", "color": "#c6c6c6", "strokeWidth": 0.8}, "encoding": {"y2": {"field": "hi"}}},
{"transform": [{"fold": ["lo", "hi"], "as": ["k", "v"]}], "mark": {"type": "tick", "orient": "horizontal", "color": "#c6c6c6", "size": 3.5, "thickness": 0.8}},
{"transform": [{"flatten": ["o"]}, {"fold": ["o"], "as": ["k", "v"]}], "mark": {"type": "point", "filled": true, "size": 3, "color": "#a9a9a9", "opacity": 1}},
{"transform": [{"fold": ["q1"], "as": ["k", "v"]}], "mark": {"type": "bar", "color": "#7579bf"}, "encoding": {"y2": {"field": "q3"}}},
{"transform": [{"fold": ["m"], "as": ["k", "v"]}], "mark": {"type": "tick", "orient": "horizontal", "color": "#1e1f4e", "size": 8.3, "thickness": 1.6}}
]
}
]
}
],
"spacing": 0
}
